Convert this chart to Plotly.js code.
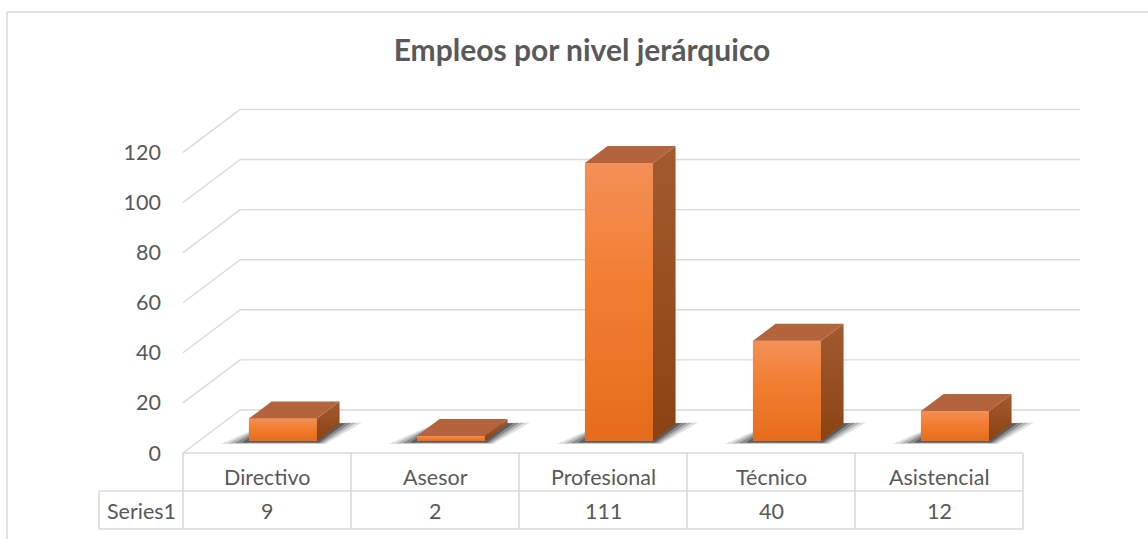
<!DOCTYPE html>
<html>
<head>
<meta charset="utf-8">
<script src="https://cdn.plot.ly/plotly-3.0.1.min.js"></script>
<style>
  html, body { margin: 0; padding: 0; background: #ffffff; }
  #chart { width: 1148px; height: 539px; }
</style>
</head>
<body>
<div id="chart"></div>
<script>
// ---------------- DATA ----------------
const chartTitle = 'Empleos por nivel jerárquico';
const categories = ['Directivo', 'Asesor', 'Profesional', 'Técnico', 'Asistencial'];
const values = [9, 2, 111, 40, 12];
const seriesName = 'Series1';
const yTickVals = [0, 20, 40, 60, 80, 100, 120];

// ---------------- GEOMETRY (pixel calibration of the oblique 3D view) ----------------
const W = 1148, H = 539;
const PL = 95, PR = 1140, PT = 80, PB = 535;   // plot area in pixels
const X0PX = 183, COLPX = 168;                 // front-left edge and column width
const Y0PX = 453, SY = 2.505;                   // zero line (front) and px per unit
const SLOPE = 1.33;                             // depth: dx = SLOPE * d, dy = -d
const xOf = px => (px - X0PX) / COLPX - 0.5;
const vOf = py => (Y0PX - py) / SY;
const ddx = d => d * SLOPE / COLPX;
const ddy = d => d / SY;
const paperX = px => (px - PL) / (PR - PL);
const paperY = py => (PB - py) / (PB - PT);

const WALL_D = 43, BAR_D0 = 12, BAR_D1 = 29;
const BAR_W = 68 / COLPX;
const textColor = '#595959';
const gridColor = '#D9D9D9';
const FONT = 'Lato, "Open Sans", sans-serif';
const TXT = 21.5;

const shapes = [];
// back wall gridlines and left wall diagonals
yTickVals.forEach(v => {
  shapes.push({type: 'line', xref: 'x', yref: 'y', layer: 'below',
    x0: -0.5 + ddx(WALL_D), x1: categories.length - 0.5 + ddx(WALL_D),
    y0: v + ddy(WALL_D), y1: v + ddy(WALL_D),
    line: {color: gridColor, width: 1.4}});
  shapes.push({type: 'line', xref: 'x', yref: 'y', layer: 'below',
    x0: -0.5, x1: -0.5 + ddx(WALL_D),
    y0: v, y1: v + ddy(WALL_D),
    line: {color: gridColor, width: 1.4}});
});
// data table lines
const rowH = 38 / SY;
const tLine = {color: gridColor, width: 1.6};
shapes.push({type: 'line', xref: 'x', yref: 'y', layer: 'below', x0: -0.5, x1: categories.length - 0.5, y0: 0, y1: 0, line: tLine});
shapes.push({type: 'line', xref: 'x', yref: 'y', layer: 'below', x0: -1.0, x1: categories.length - 0.5, y0: -rowH, y1: -rowH, line: tLine});
shapes.push({type: 'line', xref: 'x', yref: 'y', layer: 'below', x0: -1.0, x1: categories.length - 0.5, y0: -2 * rowH, y1: -2 * rowH, line: tLine});
shapes.push({type: 'line', xref: 'x', yref: 'y', layer: 'below', x0: -1.0, x1: -1.0, y0: -rowH, y1: -2 * rowH, line: tLine});
for (let i = 0; i <= categories.length; i++) {
  shapes.push({type: 'line', xref: 'x', yref: 'y', layer: 'below', x0: i - 0.5, x1: i - 0.5, y0: 0, y1: -2 * rowH, line: tLine});
}
// chart outer border (top and left visible)
shapes.push({type: 'line', xref: 'paper', yref: 'paper', x0: paperX(7), x1: paperX(1150), y0: paperY(12), y1: paperY(12), line: {color: gridColor, width: 1.5}});
shapes.push({type: 'line', xref: 'paper', yref: 'paper', x0: paperX(7), x1: paperX(7), y0: paperY(12), y1: paperY(545), line: {color: gridColor, width: 1.5}});

const traces = [];
const b0 = ddy(BAR_D0);
const sx = ddx(BAR_D1 - BAR_D0), sy = ddy(BAR_D1 - BAR_D0);

// shadows (soft, layered)
values.forEach((v, i) => {
  const xc = i + ddx(BAR_D0);
  const xL = xc - BAR_W / 2, xR = xc + BAR_W / 2;
  [[28, 3, 0.14], [21, 2.5, 0.2], [14, 2, 0.28], [7, 1.5, 0.4]].forEach(([ex, ey, a]) => {
    const e = ex / COLPX, f = ey / SY;
    traces.push({type: 'scatter', mode: 'lines', hoverinfo: 'skip', showlegend: false,
      x: [xL - e, xR + e * 0.3, xR + sx + e * 0.8, xL + sx - e * 0.2, xL - e],
      y: [b0 - f, b0 - f, b0 + sy + f * 0.5, b0 + sy, b0 - f],
      fill: 'toself', fillcolor: 'rgba(25,25,25,' + a + ')', line: {width: 0}});
  });
});

// front faces as real bars
traces.push({type: 'bar', name: seriesName, showlegend: false,
  x: values.map((v, i) => i + ddx(BAR_D0)), y: values, base: values.map(() => b0),
  width: values.map(() => BAR_W), marker: {color: '#F07A2C', line: {width: 0}},
  hovertemplate: '%{text}: %{y}<extra></extra>', text: categories, textposition: 'none'});

values.forEach((v, i) => {
  const xc = i + ddx(BAR_D0);
  const xL = xc - BAR_W / 2, xR = xc + BAR_W / 2;
  // front gradient overlay
  traces.push({type: 'scatter', mode: 'lines', hoverinfo: 'skip', showlegend: false,
    x: [xL, xR, xR, xL, xL], y: [b0, b0, b0 + v, b0 + v, b0],
    fill: 'toself', line: {width: 0},
    fillgradient: {type: 'vertical', colorscale: [[0, '#E66C1C'], [0.55, '#F27D30'], [1, '#F39057']]}});
  // side face
  traces.push({type: 'scatter', mode: 'lines', hoverinfo: 'skip', showlegend: false,
    x: [xR, xR + sx, xR + sx, xR, xR], y: [b0, b0 + sy, b0 + sy + v, b0 + v, b0],
    fill: 'toself', line: {width: 0},
    fillgradient: {type: 'vertical', colorscale: [[0, '#8C4313'], [1, '#A25A31']]}});
  // top face
  traces.push({type: 'scatter', mode: 'lines', hoverinfo: 'skip', showlegend: false,
    x: [xL, xR, xR + sx, xL + sx, xL], y: [b0 + v, b0 + v, b0 + sy + v, b0 + sy + v, b0 + v],
    fill: 'toself', fillcolor: '#B3643C', line: {width: 0}});
});

// table text
const annotations = [];
categories.forEach((c, i) => {
  annotations.push({xref: 'x', yref: 'y', x: i, y: vOf(477), text: c, showarrow: false,
    xanchor: 'center', yanchor: 'middle', font: {family: FONT, size: TXT, color: textColor}});
  annotations.push({xref: 'x', yref: 'y', x: i, y: vOf(511), text: String(values[i]), showarrow: false,
    xanchor: 'center', yanchor: 'middle', font: {family: FONT, size: TXT, color: textColor}});
});
annotations.push({xref: 'x', yref: 'y', x: -0.75, y: vOf(511), text: seriesName, showarrow: false,
  xanchor: 'center', yanchor: 'middle', font: {family: FONT, size: TXT, color: textColor}});

const layout = {
  width: W, height: H,
  paper_bgcolor: '#ffffff', plot_bgcolor: 'rgba(0,0,0,0)',
  margin: {l: PL, r: W - PR, t: PT, b: H - PB, pad: 0},
  showlegend: false,
  barmode: 'overlay',
  title: {text: '<b>' + chartTitle + '</b>', x: 582 / W, xref: 'container', xanchor: 'center',
    y: 1 - 50 / H, yref: 'container', yanchor: 'middle',
    font: {family: FONT, size: 30, color: textColor}},
  xaxis: {range: [xOf(PL), xOf(PR)], showgrid: false, zeroline: false, showline: false,
    showticklabels: false, ticks: '', fixedrange: true},
  yaxis: {range: [vOf(PB), vOf(PT)], anchor: 'free', position: paperX(161),
    tickmode: 'array', tickvals: yTickVals, ticktext: yTickVals.map(String),
    showgrid: false, zeroline: false, showline: false, ticks: '',
    tickfont: {family: FONT, size: TXT, color: textColor}, fixedrange: true},
  shapes: shapes,
  annotations: annotations
};

Plotly.newPlot('chart', traces, layout, {displayModeBar: false, staticPlot: true});
</script>
</body>
</html>
